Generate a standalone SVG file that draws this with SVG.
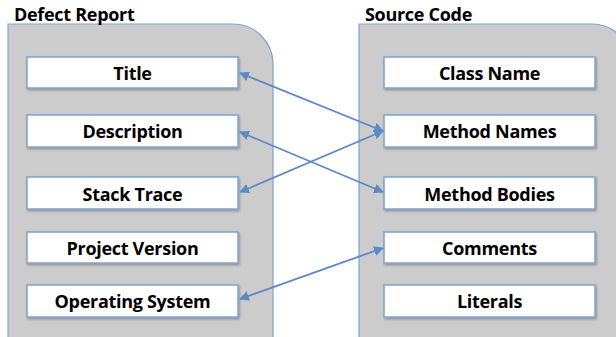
<svg xmlns="http://www.w3.org/2000/svg" width="616" height="337" viewBox="0 0 616 337">
<defs>
<style>
.cont{fill:#cccccc;stroke:#7ea3d2;stroke-width:1.2}
.box{fill:#ffffff;stroke:#7ea3d2;stroke-width:1.5}
.lbl{font-family:"Open Sans","Liberation Sans",sans-serif;font-weight:bold;font-size:18px;fill:#000;text-anchor:middle;letter-spacing:-0.3px}
.ttl{font-family:"Open Sans","Liberation Sans",sans-serif;font-weight:bold;font-size:18px;fill:#000;letter-spacing:-0.3px}
.con{stroke:#5b8ac6;stroke-width:1.8;fill:none;marker-start:url(#ah);marker-end:url(#ah)}
</style>
<marker id="ah" viewBox="0 0 10 10" refX="9" refY="5" markerWidth="5.5" markerHeight="5.5" orient="auto-start-reverse" markerUnits="strokeWidth">
<path d="M0,0 L10,5 L0,10 z" fill="#5b8ac6"/>
</marker>
<filter id="sh" x="-5%" y="-20%" width="110%" height="150%">
<feDropShadow dx="1" dy="1.5" stdDeviation="1" flood-color="#000" flood-opacity="0.3"/>
</filter>
</defs>
<rect width="616" height="337" fill="#ffffff"/>
<g id="defect-report">
<path class="cont" d="M8,337 L8,24 L233,24 A40,40 0 0 1 273,64 L273,337"/>
<text class="ttl" x="14" y="21">Defect Report</text>
</g>
<g id="source-code">
<path class="cont" d="M359,337 L359,24 L592,24 A40,40 0 0 1 632,64 L632,337"/>
<text class="ttl" x="365" y="21">Source Code</text>
</g>
<g id="title"><rect class="box" filter="url(#sh)" x="27" y="57" width="211" height="31"/><text class="lbl" x="132.5" y="80">Title</text></g>
<g id="description"><rect class="box" filter="url(#sh)" x="27" y="115" width="211" height="32"/><text class="lbl" x="132.5" y="138">Description</text></g>
<g id="stack-trace"><rect class="box" filter="url(#sh)" x="27" y="177" width="211" height="32"/><text class="lbl" x="132.5" y="201">Stack Trace</text></g>
<g id="project-version"><rect class="box" filter="url(#sh)" x="27" y="232" width="211" height="31"/><text class="lbl" x="132.5" y="255">Project Version</text></g>
<g id="operating-system"><rect class="box" filter="url(#sh)" x="27" y="285" width="211" height="32"/><text class="lbl" x="132.5" y="308">Operating System</text></g>
<g id="class-name"><rect class="box" filter="url(#sh)" x="384" y="57" width="211" height="31"/><text class="lbl" x="489.5" y="80">Class Name</text></g>
<g id="method-names"><rect class="box" filter="url(#sh)" x="384" y="115" width="211" height="32"/><text class="lbl" x="489.5" y="138">Method Names</text></g>
<g id="method-bodies"><rect class="box" filter="url(#sh)" x="384" y="177" width="211" height="32"/><text class="lbl" x="489.5" y="201">Method Bodies</text></g>
<g id="comments"><rect class="box" filter="url(#sh)" x="384" y="232" width="211" height="31"/><text class="lbl" x="489.5" y="255">Comments</text></g>
<g id="literals"><rect class="box" filter="url(#sh)" x="384" y="285" width="211" height="32"/><text class="lbl" x="489.5" y="308">Literals</text></g>
<g id="connectors">
<line class="con" x1="240" y1="73" x2="383" y2="131"/>
<line class="con" x1="240" y1="132" x2="383" y2="192"/>
<line class="con" x1="240" y1="192" x2="383" y2="131"/>
<line class="con" x1="240" y1="299" x2="383" y2="248"/>
</g>
</svg>
